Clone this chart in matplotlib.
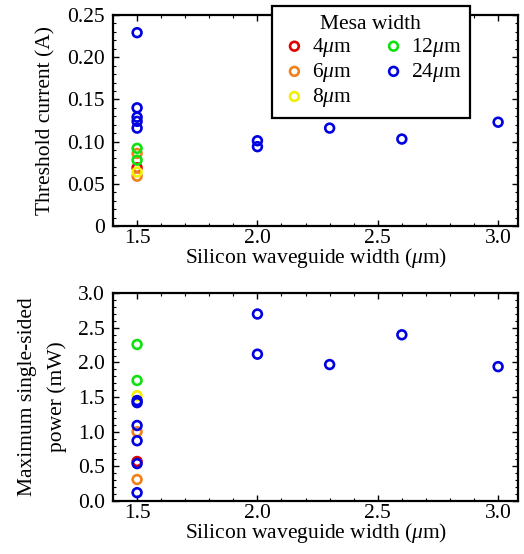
import matplotlib
matplotlib.use('Agg')
import matplotlib.pyplot as plt
from matplotlib.ticker import MultipleLocator, FixedLocator

plt.rcParams['font.family'] = ['Liberation Serif', 'DejaVu Serif']
plt.rcParams['mathtext.fontset'] = 'custom'
plt.rcParams['mathtext.rm'] = 'Liberation Serif'
plt.rcParams['mathtext.it'] = 'Liberation Serif:italic'

# mesa widths and colours
mesa_labels = [r'4$\mu$m', r'6$\mu$m', r'8$\mu$m', r'12$\mu$m', r'24$\mu$m']
mesa_colors = ['#e00000', '#f0801a', '#f2f000', '#10e010', '#0000e0']

# threshold current (A) vs silicon waveguide width (um)
thr_x = [[1.5], [1.5, 1.5], [1.5], [1.5, 1.5],
         [1.5, 1.5, 1.5, 1.5, 1.5, 2.0, 2.0, 2.3, 2.6, 3.0]]
thr_y = [[0.069], [0.086, 0.059], [0.064], [0.092, 0.078],
         [0.229, 0.140, 0.129, 0.124, 0.116, 0.101, 0.094, 0.116, 0.103, 0.123]]

# maximum single-sided power (mW)
pow_x = [[1.5], [1.5, 1.5], [1.5], [1.5, 1.5],
         [1.5, 1.5, 1.5, 1.5, 1.5, 1.5, 2.0, 2.0, 2.3, 2.6, 3.0]]
pow_y = [[0.57], [1.00, 0.31], [1.52], [2.26, 1.74],
         [1.45, 1.42, 1.09, 0.87, 0.54, 0.12, 2.70, 2.12, 1.97, 2.40, 1.94]]

XTICKS = [1.5, 2.0, 2.5, 3.0]
XLIM = (1.40, 3.083)
FS = 15.5


def _style_ax(ax):
    for spine in ax.spines.values():
        spine.set_linewidth(1.6)
        spine.set_color('black')
    ax.set_xlim(XLIM)
    ax.xaxis.set_major_locator(FixedLocator(XTICKS))
    ax.xaxis.set_minor_locator(MultipleLocator(0.1))
    ax.set_xticklabels([f'{t:.1f}' for t in XTICKS])
    ax.tick_params(which='both', direction='in', top=True, right=True,
                   labelsize=FS, colors='black')
    ax.tick_params(which='major', length=4, width=1.0, pad=6)
    ax.tick_params(axis='x', which='major', pad=2)
    ax.tick_params(which='minor', length=2, width=0.8)
    ax.set_xlabel(r'Silicon waveguide width ($\mu$m)', fontsize=FS, labelpad=-1)


fig = plt.figure(figsize=(5.24, 5.54), dpi=100)

ax1 = fig.add_axes([0.2157, 0.592, 0.773, 0.381])
_style_ax(ax1)
for xs, ys, c, lab in zip(thr_x, thr_y, mesa_colors, mesa_labels):
    ax1.scatter(xs, ys, s=40, facecolors='none', edgecolors=c, linewidths=1.9,
                label=lab, zorder=3)
ax1.set_ylim(0, 0.25)
ax1.yaxis.set_minor_locator(MultipleLocator(0.01))
ax1.set_yticks([0, 0.05, 0.10, 0.15, 0.20, 0.25])
ax1.set_yticklabels(['0', '0.05', '0.10', '0.15', '0.20', '0.25'])
ax1.set_ylabel('Threshold current (A)', fontsize=FS, labelpad=8)

leg = ax1.legend(title='Mesa width', ncol=2, loc='upper left',
                 bbox_to_anchor=(0.392, 1.042), fontsize=FS,
                 title_fontsize=FS, frameon=True, fancybox=False,
                 handletextpad=0.15, columnspacing=1.3, labelspacing=0.1,
                 borderpad=0.4, handlelength=1.3, borderaxespad=0)
leg.get_frame().set_edgecolor('black')
leg.get_frame().set_linewidth(1.6)
leg.get_frame().set_alpha(1)

ax2 = fig.add_axes([0.2157, 0.0957, 0.773, 0.375])
_style_ax(ax2)
for xs, ys, c, lab in zip(pow_x, pow_y, mesa_colors, mesa_labels):
    ax2.scatter(xs, ys, s=40, facecolors='none', edgecolors=c, linewidths=1.9,
                zorder=3)
ax2.set_ylim(0, 3.0)
ax2.yaxis.set_major_locator(MultipleLocator(0.5))
ax2.yaxis.set_minor_locator(MultipleLocator(0.1))
ax2.yaxis.set_major_formatter(plt.FormatStrFormatter('%.1f'))
ax2.set_ylabel('Maximum single-sided\npower (mW)', fontsize=FS, labelpad=8,
               linespacing=1.65)

fig.savefig('out.png', dpi=100)
